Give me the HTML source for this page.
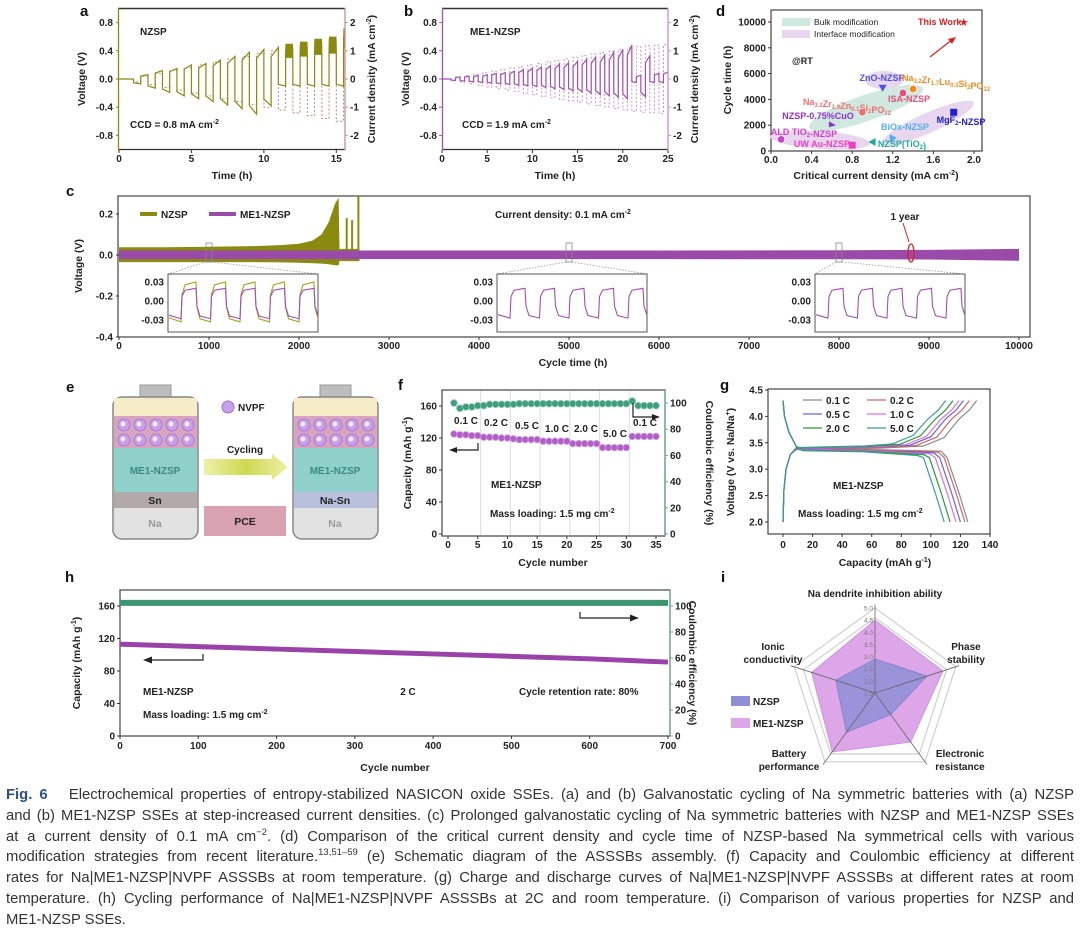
<!DOCTYPE html>
<html><head><meta charset="utf-8">
<style>
body{margin:0;width:1080px;height:931px;background:#fff;overflow:hidden;font-family:"Liberation Sans",sans-serif}
svg{position:absolute;left:0;top:0}
.tk{font:bold 10px "Liberation Sans",sans-serif;fill:#222}
.ti{font:bold 10.5px "Liberation Sans",sans-serif;fill:#222}
.pl{font:bold 15px "Liberation Sans",sans-serif;fill:#111}
.an{font:bold 10px "Liberation Sans",sans-serif;fill:#222}
.sm{font:bold 9px "Liberation Sans",sans-serif}
#cap{position:absolute;left:6px;top:785px;width:1068px;font-size:14.8px;line-height:20.8px;color:#333}
#cap div{text-align:justify;text-align-last:justify}
#cap div.last{text-align-last:left}
#cap sup{font-size:9.5px;line-height:0}
</style></head>
<body>
<svg id="fig" width="1080" height="786" viewBox="0 0 1080 786">
<defs>
<clipPath id="clipA"><rect x="118" y="8" width="227" height="142"/></clipPath>
<clipPath id="clipB"><rect x="442" y="8" width="226" height="142"/></clipPath>
<clipPath id="clipC"><rect x="118" y="196" width="912" height="141"/></clipPath>
<linearGradient id="arrG" x1="0" x2="1"><stop offset="0" stop-color="#eef0a8"/><stop offset="0.5" stop-color="#cfd850"/><stop offset="1" stop-color="#eef0a8"/></linearGradient>
</defs>

<!-- panel a -->
<text class="pl" x="80" y="16">a</text>
<text class="ti" transform="translate(85,79) rotate(-90)" text-anchor="middle">Voltage (V)</text>
<text class="ti" transform="translate(375,79) rotate(-90)" text-anchor="middle">Current density (mA cm<tspan font-size="7" dy="-4">-2</tspan><tspan dy="4">)</tspan></text>
<text class="ti" x="232" y="179" text-anchor="middle">Time (h)</text>
<g id="gA" clip-path="url(#clipA)"></g>
<line x1="118" y1="8.5" x2="345" y2="8.5" stroke="#333" stroke-width="1.5"/>
<line x1="118" y1="149.5" x2="345" y2="149.5" stroke="#333" stroke-width="1.2"/>
<line x1="118.5" y1="8" x2="118.5" y2="150" stroke="#8a8a10" stroke-width="1.3"/>
<line x1="345" y1="8" x2="345" y2="150" stroke="#c99090" stroke-width="1.3"/>
<text class="an" x="140" y="35">NZSP</text>
<text class="an" x="130" y="128">CCD = 0.8 mA cm<tspan font-size="7" dy="-4">-2</tspan></text>

<!-- panel b -->
<text class="pl" x="404" y="16">b</text>
<text class="ti" transform="translate(409,79) rotate(-90)" text-anchor="middle">Voltage (V)</text>
<text class="ti" transform="translate(698,79) rotate(-90)" text-anchor="middle">Current density (mA cm<tspan font-size="7" dy="-4">-2</tspan><tspan dy="4">)</tspan></text>
<text class="ti" x="555" y="179" text-anchor="middle">Time (h)</text>
<g id="gB" clip-path="url(#clipB)"></g>
<line x1="442" y1="8.5" x2="668" y2="8.5" stroke="#333" stroke-width="1.5"/>
<line x1="442" y1="149.5" x2="668" y2="149.5" stroke="#333" stroke-width="1.2"/>
<line x1="442.5" y1="8" x2="442.5" y2="150" stroke="#a050b0" stroke-width="1.3"/>
<line x1="668" y1="8" x2="668" y2="150" stroke="#d090c0" stroke-width="1.3"/>
<text class="an" x="470" y="35">ME1-NZSP</text>
<text class="an" x="462" y="128">CCD = 1.9 mA cm<tspan font-size="7" dy="-4">-2</tspan></text>

<!-- panel d -->
<text class="pl" x="716" y="16">d</text>
<text class="ti" transform="translate(731,80) rotate(-90)" text-anchor="middle">Cycle time (h)</text>
<text class="ti" x="876" y="179" text-anchor="middle">Critical current density (mA cm<tspan font-size="7" dy="-4">-2</tspan><tspan dy="4">)</tspan></text>
<rect x="771" y="10" width="211" height="141" fill="#fff" stroke="#444" stroke-width="1.2"/>
<ellipse cx="866" cy="108" rx="60" ry="13" transform="rotate(-19 866 108)" fill="#cfe8e0"/>
<ellipse cx="884" cy="80" rx="19" ry="9" fill="#e8d6ee"/>
<ellipse cx="928" cy="123" rx="50" ry="10" transform="rotate(-24 928 123)" fill="#e8d6ee"/>
<ellipse cx="820" cy="140" rx="50" ry="9" transform="rotate(4 820 140)" fill="#e8d6ee"/>
<rect x="782" y="18" width="28" height="8" fill="#cfe8e0"/>
<text x="814" y="25" font-size="8.5" fill="#222">Bulk modification</text>
<rect x="782" y="30" width="28" height="8" fill="#e8d6ee"/>
<text x="814" y="37" font-size="8.5" fill="#222">Interface modification</text>
<text class="sm" x="918" y="25" fill="#e02020">This Work</text>
<text class="sm" x="792" y="64" fill="#222">@RT</text>
<line x1="930" y1="57" x2="953" y2="39" stroke="#e02020" stroke-width="1.2"/>
<polygon points="956,37 948,39 952,44" fill="#e02020"/>
<g id="gD"></g>

<!-- panel c -->
<text class="pl" x="66" y="196">c</text>
<text class="ti" transform="translate(82,266) rotate(-90)" text-anchor="middle">Voltage (V)</text>
<text class="ti" x="573" y="366" text-anchor="middle">Cycle time (h)</text>
<rect x="118" y="196" width="912" height="141" fill="#fff" stroke="#444" stroke-width="1.2"/>
<g id="gC" clip-path="url(#clipC)"></g>
<line x1="140" y1="214" x2="157" y2="214" stroke="#8a8a10" stroke-width="4"/>
<text class="an" x="161" y="218">NZSP</text>
<line x1="209" y1="214" x2="236" y2="214" stroke="#9a4aa8" stroke-width="4"/>
<text class="an" x="240" y="218">ME1-NZSP</text>
<text class="an" x="563" y="218" text-anchor="middle">Current density: 0.1 mA cm<tspan font-size="7" dy="-4">-2</tspan></text>
<text class="an" x="905" y="220" text-anchor="middle">1 year</text>
<line x1="903" y1="223" x2="909" y2="242" stroke="#e02020" stroke-width="1"/>
<g id="gCi"></g>

<!-- panel e -->
<text class="pl" x="66" y="392">e</text>
<g>
<rect x="140" y="385" width="31" height="13" fill="#bdbdbd" stroke="#999"/>
<rect x="113" y="397" width="85" height="142" rx="9" fill="#e2e2e2" stroke="#888" stroke-width="1.5"/>
<rect x="114" y="398" width="83" height="18" fill="#f6ecc8"/>
<rect x="114" y="416" width="83" height="32" fill="#d7a5c2"/>
<rect x="114" y="448" width="83" height="44" fill="#90d0cb"/>
<rect x="114" y="492" width="83" height="16" fill="#b2aaaa"/>
<text x="155" y="474" text-anchor="middle" font-size="10" font-weight="bold" fill="#3a8a84">ME1-NZSP</text>
<text x="155" y="504" text-anchor="middle" font-size="10.5" font-weight="bold" fill="#222">Sn</text>
<text x="155" y="527" text-anchor="middle" font-size="10.5" font-weight="bold" fill="#999">Na</text>
</g>
<g>
<rect x="320" y="385" width="31" height="13" fill="#bdbdbd" stroke="#999"/>
<rect x="293" y="397" width="85" height="142" rx="9" fill="#e2e2e2" stroke="#888" stroke-width="1.5"/>
<rect x="294" y="398" width="83" height="18" fill="#f6ecc8"/>
<rect x="294" y="416" width="83" height="32" fill="#d7a5c2"/>
<rect x="294" y="448" width="83" height="44" fill="#90d0cb"/>
<rect x="294" y="492" width="83" height="16" fill="#b8c0dc"/>
<text x="335" y="474" text-anchor="middle" font-size="10" font-weight="bold" fill="#3a8a84">ME1-NZSP</text>
<text x="335" y="504" text-anchor="middle" font-size="10.5" font-weight="bold" fill="#222">Na-Sn</text>
<text x="335" y="527" text-anchor="middle" font-size="10.5" font-weight="bold" fill="#999">Na</text>
</g>
<g id="gE"></g>
<circle cx="228" cy="407" r="6" fill="#c8a0ea" stroke="#a070d0"/>
<text x="238" y="411" font-size="10" font-weight="bold" fill="#222">NVPF</text>
<polygon points="204,459 272,459 272,454 288,467 272,480 272,475 204,475" fill="url(#arrG)"/>
<text x="245" y="453" text-anchor="middle" font-size="10" font-weight="bold" fill="#222">Cycling</text>
<rect x="204" y="506" width="82" height="30" fill="#d9a2b2"/>
<text x="245" y="525" text-anchor="middle" font-size="10.5" font-weight="bold" fill="#222">PCE</text>

<!-- panel f -->
<text class="pl" x="398" y="390">f</text>
<text class="ti" transform="translate(411,463) rotate(-90)" text-anchor="middle">Capacity (mAh g<tspan font-size="7" dy="-4">-1</tspan><tspan dy="4">)</tspan></text>
<text class="ti" transform="translate(706,463) rotate(90)" text-anchor="middle">Coulombic efficiency (%)</text>
<text class="ti" x="553" y="566" text-anchor="middle">Cycle number</text>
<rect x="442" y="390" width="223" height="146" fill="#fff" stroke="#444" stroke-width="1.2"/>
<line x1="665" y1="390" x2="665" y2="536" stroke="#6aa890" stroke-width="1.3"/>
<g id="gF"></g>
<text class="an" x="491" y="488">ME1-NZSP</text>
<text class="an" x="490" y="517">Mass loading: 1.5 mg cm<tspan font-size="7" dy="-4">-2</tspan></text>
<path d="M478,443 V450 H451" fill="none" stroke="#222" stroke-width="1.2"/>
<polygon points="449,450 457,447 457,453" fill="#222"/>
<path d="M633,403 V417 H657" fill="none" stroke="#222" stroke-width="1.2"/>
<polygon points="660,417 652,414 652,420" fill="#222"/>

<!-- panel g -->
<text class="pl" x="720" y="390">g</text>
<text class="ti" transform="translate(734,462) rotate(-90)" text-anchor="middle">Voltage (V vs. Na/Na<tspan font-size="7" dy="-4">+</tspan><tspan dy="4">)</tspan></text>
<text class="ti" x="885" y="566" text-anchor="middle">Capacity (mAh g<tspan font-size="7" dy="-4">-1</tspan><tspan dy="4">)</tspan></text>
<rect x="768" y="389" width="222" height="145" fill="#fff" stroke="#444" stroke-width="1.2"/>
<g id="gG"></g>
<text class="an" x="833" y="489">ME1-NZSP</text>
<text class="an" x="798" y="517">Mass loading: 1.5 mg cm<tspan font-size="7" dy="-4">-2</tspan></text>

<!-- panel h -->
<text class="pl" x="65" y="582">h</text>
<text class="ti" transform="translate(80,663) rotate(-90)" text-anchor="middle">Capacity (mAh g<tspan font-size="7" dy="-4">-1</tspan><tspan dy="4">)</tspan></text>
<text class="ti" transform="translate(689,663) rotate(90)" text-anchor="middle">Coulombic efficiency (%)</text>
<text class="ti" x="395" y="771" text-anchor="middle">Cycle number</text>
<rect x="120" y="590" width="550" height="146" fill="#fff" stroke="#444" stroke-width="1.2"/>
<line x1="670" y1="590" x2="670" y2="736" stroke="#6aa890" stroke-width="1.3"/>
<g id="gH"></g>
<text class="an" x="143" y="695">ME1-NZSP</text>
<text class="an" x="143" y="718">Mass loading: 1.5 mg cm<tspan font-size="7" dy="-4">-2</tspan></text>
<text class="an" x="408" y="695" text-anchor="middle">2 C</text>
<text class="an" x="519" y="695">Cycle retention rate: 80%</text>
<path d="M203,654 V660 H146" fill="none" stroke="#222" stroke-width="1.2"/>
<polygon points="143,660 152,656.5 152,663.5" fill="#222"/>
<path d="M580,612 V618 H635" fill="none" stroke="#222" stroke-width="1.2"/>
<polygon points="639,618 630,614.5 630,621.5" fill="#222"/>

<!-- panel i -->
<text class="pl" x="721" y="582">i</text>
<g id="gI"></g>
<text class="an" x="875" y="597" text-anchor="middle" font-size="10.5">Na dendrite inhibition ability</text>
<text class="an" x="966" y="650" text-anchor="middle">Phase</text>
<text class="an" x="966" y="663" text-anchor="middle">stability</text>
<text class="an" x="773" y="650" text-anchor="middle">Ionic</text>
<text class="an" x="773" y="663" text-anchor="middle">conductivity</text>
<text class="an" x="789" y="757" text-anchor="middle">Battery</text>
<text class="an" x="789" y="770" text-anchor="middle">performance</text>
<text class="an" x="960" y="757" text-anchor="middle">Electronic</text>
<text class="an" x="960" y="770" text-anchor="middle">resistance</text>
<rect x="731" y="696" width="19" height="10" fill="#8f8fd6"/>
<text class="an" x="753" y="705">NZSP</text>
<rect x="731" y="718" width="19" height="10" fill="#dda6e8"/>
<text class="an" x="753" y="727">ME1-NZSP</text>
</svg>

<div id="cap">
<div><b style="color:#2a4f8a">Fig. 6</b>&nbsp;&nbsp; Electrochemical properties of entropy-stabilized NASICON oxide SSEs. (a) and (b) Galvanostatic cycling of Na symmetric batteries with (a) NZSP</div>
<div>and (b) ME1-NZSP SSEs at step-increased current densities. (c) Prolonged galvanostatic cycling of Na symmetric batteries with NZSP and ME1-NZSP SSEs</div>
<div>at a current density of 0.1 mA cm<sup>−2</sup>. (d) Comparison of the critical current density and cycle time of NZSP-based Na symmetrical cells with various</div>
<div>modification strategies from recent literature.<sup>13,51–59</sup> (e) Schematic diagram of the ASSSBs assembly. (f) Capacity and Coulombic efficiency at different</div>
<div>rates for Na|ME1-NZSP|NVPF ASSSBs at room temperature. (g) Charge and discharge curves of Na|ME1-NZSP|NVPF ASSSBs at different rates at room</div>
<div>temperature. (h) Cycling performance of Na|ME1-NZSP|NVPF ASSSBs at 2C and room temperature. (i) Comparison of various properties for NZSP and</div>
<div class="last">ME1-NZSP SSEs.</div>
</div>

<script>
// ---------- data ----------
const aVpos = [0.06,0.12,0.15,0.2,0.22,0.27,0.32,0.38,0.42,0.45,0.5,0.53,0.57,0.6,0.72];
const aVneg = [-0.07,-0.13,-0.19,-0.24,-0.28,-0.32,-0.37,-0.42,-0.5,-0.38,-0.1,-0.1,-0.1,-0.1,-0.1];
const aCur = [0.1,0.2,0.3,0.4,0.5,0.6,0.7,0.8,0.9,1.0,1.1,1.2,1.3,1.4,1.5];
const aNoisy = [0,0,0,0,0,0,0,0,0,0,1,1,1,1,1];
const bVpos = [0.03,0.04,0.05,0.06,0.08,0.09,0.11,0.13,0.15,0.17,0.19,0.21,0.23,0.25,0.28,0.31,0.34,0.38,0.42,0.48,0.05,0.33,0.08,0.1];
const bVneg = [-0.02,-0.03,-0.04,-0.05,-0.06,-0.07,-0.08,-0.09,-0.1,-0.11,-0.12,-0.14,-0.15,-0.17,-0.18,-0.2,-0.22,-0.24,-0.26,-0.28,-0.05,-0.25,-0.05,-0.05];
const bCur = [0.06,0.11,0.17,0.22,0.28,0.33,0.39,0.44,0.5,0.55,0.61,0.66,0.72,0.77,0.83,0.88,0.94,0.99,1.05,1.1,1.15,1.18,1.2,1.22];
const cNT = [0,500,1000,1500,1800,2000,2150,2250,2330,2400,2440,2450,2670];
const cNTop = [0.038,0.038,0.04,0.043,0.048,0.055,0.07,0.1,0.16,0.25,0.28,0.03,0.03];
const cNBot = [-0.035,-0.035,-0.035,-0.035,-0.036,-0.038,-0.04,-0.042,-0.045,-0.05,-0.05,-0.03,-0.03];
const cSpikeT = [2530,2590,2660];
const cSpikeV = [0.18,0.17,0.29];
const cMT = [0,2000,4000,6000,8000,9000,10000];
const cMTop = [0.022,0.022,0.022,0.022,0.023,0.025,0.03];
const cMBot = [-0.02,-0.02,-0.02,-0.02,-0.021,-0.022,-0.028];
const cInsetT = [1000,5000,8000];
const cInsetTopM = [0.02,0.02,0.02];
const cInsetBotM = [-0.028,-0.027,-0.027];
const cInsetTopN = [0.03];
const cInsetBotN = [-0.033];
const dNames = ['This Work','ZnO-NZSP','Na3.2Zr1.7Lu0.3Si2PO12','ISA-NZSP','Na3.2Zr1.9Zn0.1Si2PO12','NZSP-0.75%CuO','MgF2-NZSP','BiOx-NZSP','ALD TiO2-NZSP','UW Au-NZSP','NZSP(TiO2)'];
const dCCD = [1.9,1.1,1.4,1.3,0.9,0.6,1.8,1.2,0.1,0.8,1.0];
const dTime = [10000,4900,4800,4500,3000,2000,3000,1000,900,450,700];
const fCycles = [1,2,3,4,5,6,7,8,9,10,11,12,13,14,15,16,17,18,19,20,21,22,23,24,25,26,27,28,29,30,31,32,33,34,35];
const fCap = [125,124,124,123,123,121,121,121,120,120,119,118,118,118,118,116,116,116,116,116,113,113,113,113,113,108,108,108,108,108,122,122,122,122,122];
const fCE = [100,96,97,97,98,98,99,99,99,99,99,99.5,99.5,99.5,99.5,99.5,99.5,99.5,99.5,99.5,99.5,99.5,99.5,99.5,99.5,99.5,99.5,99.5,99.5,99.5,101.5,98,98,98,98];
const fRates = ['0.1 C','0.2 C','0.5 C','1.0 C','2.0 C','5.0 C','0.1 C'];
const gRates = ['0.1 C','0.2 C','0.5 C','1.0 C','2.0 C','5.0 C'];
const gCharge = [131,126,122,119,115,110];
const gDischarge = [125,123,120,117,113,109];
const hCycles = [0,100,200,300,400,500,600,700];
const hCap = [113,110,107,104,101,98,95,91];
const hCE = [100.5,100.5,100.5,100.5,100.5,100.5,100.5,100.5];
const iAxes = ['Na dendrite inhibition ability','Phase stability','Electronic resistance','Battery performance','Ionic conductivity'];
const iNZSP = [2.9,3.75,2.6,3.5,3.2];
const iME1 = [4.5,4.45,4.0,4.5,4.25];
const iTicks = [1.5,2.0,2.5,3.0,3.5,4.0,4.5,5.0];

// ---------- helpers ----------
const NS='http://www.w3.org/2000/svg';
const svg=document.getElementById('fig');
function mk(tag,attrs,parent){const e=document.createElementNS(NS,tag);for(const k in attrs)e.setAttribute(k,attrs[k]);(parent||svg).appendChild(e);return e;}
function lin(d0,d1,r0,r1){return v=>r0+(v-d0)*(r1-r0)/(d1-d0);}
function axisX(vals,labs,sx,y0,ly,name){
  vals.forEach((v,i)=>{const x=sx(v);
    const t=mk('line',{x1:x,x2:x,y1:y0,y2:y0+3,stroke:'#333','stroke-width':1});
    
    
    const l=mk('text',{x:x,y:ly,'text-anchor':'middle',class:'tk'});
    l.textContent=labs[i];
    
    
  });
}
function axisY(vals,labs,sy,x0,dir,lx,anchor,name,col){
  vals.forEach((v,i)=>{const y=sy(v);
    const t=mk('line',{x1:x0,x2:x0+dir*3,y1:y,y2:y,stroke:col||'#333','stroke-width':1});
    
    
    const l=mk('text',{x:lx,y:y+3.5,'text-anchor':anchor,class:'tk'});
    l.textContent=labs[i];
    
    
  });
}

// ---------- panels a & b ----------
function stepPanel(g,sx,sy,sj,pos,neg,cur,noisy,col,dcol,name){
  const n=pos.length;
  let dc=`M${sx(0)},${sj(0)} L${sx(1)},${sj(0)}`;
  for(let k=0;k<n;k++){const t0=1+k;
    dc+=` L${sx(t0)},${sj(-cur[k])} L${sx(t0+0.5)},${sj(-cur[k])} L${sx(t0+0.5)},${sj(cur[k])} L${sx(t0+1)},${sj(cur[k])}`;}
  const dp=mk('path',{d:dc,fill:'none',stroke:dcol,'stroke-width':1,'stroke-dasharray':'2,2'},g);
  
  
  let d=`M${sx(0)},${sy(0)} L${sx(1)},${sy(0)}`;
  for(let k=0;k<n;k++){const t0=1+k;
    d+=` L${sx(t0)},${sy(neg[k]*0.75)} L${sx(t0+0.5)},${sy(neg[k])} L${sx(t0+0.5)},${sy(pos[k]*0.7)}`;
    if(noisy&&noisy[k]){for(let j=1;j<=16;j++){const f=j%2?1:0.6;d+=` L${sx(t0+0.5+j/32)},${sy(pos[k]*f)}`;}}
    else d+=` L${sx(t0+1)},${sy(pos[k])}`;
  }
  const vp=mk('path',{d:d,fill:'none',stroke:col,'stroke-width':1.2},g);
  
  
}
const xa=lin(0,15.6,119,345), ya=lin(0,0.8,79,22.6), ja=lin(0,2,79,22.6);
stepPanel(document.getElementById('gA'),xa,ya,ja,aVpos,aVneg,aCur,aNoisy,'#8a8a10','#c08585','a');
axisX([0,5,10,15],['0','5','10','15'],xa,150,162,'a-x');
axisY([-0.8,-0.4,0,0.4,0.8],['-0.8','-0.4','0.0','0.4','0.8'],ya,119,-1,113,'end','a-y','#8a8a10');
axisY([-2,-1,0,1,2],['-2','-1','0','1','2'],ja,345,1,350,'start','a-right','#c99090');

const xb=lin(0,25,442,668), yb=lin(0,0.8,79,22.6), jb=lin(0,2,79,22.6);
stepPanel(document.getElementById('gB'),xb,yb,jb,bVpos,bVneg,bCur,null,'#a050b0','#d090c0','b');
axisX([0,5,10,15,20,25],['0','5','10','15','20','25'],xb,150,162,'b-x');
axisY([-0.8,-0.4,0,0.4,0.8],['-0.8','-0.4','0.0','0.4','0.8'],yb,442,-1,437,'end','b-y','#a050b0');
axisY([-2,-1,0,1,2],['-2','-1','0','1','2'],jb,668,1,673,'start','b-right','#d090c0');

// ---------- panel d ----------
const xd=lin(0,2,771,974), yd=lin(0,10000,151,22);
const gD=document.getElementById('gD');
const dCols=['#e02020','#5050e0','#f08a20','#e0507a','#f07070','#9030d0','#2020d0','#50b0f0','#d040d0','#f040c0','#20a8a0'];
const dShapes=['star','tdown','half','half','half','flag','sq','tright','circ','sq','tleft'];
const dLabX=[0,882,946,909,847,818,961,905,804,822,902];
const dLabY=[0,81,81,102,105,119,123,130,135,147,147];
dNames.forEach((nm,i)=>{
  const x=xd(dCCD[i]), y=yd(dTime[i]); let e;
  const s=dShapes[i];
  if(s==='star'){e=mk('text',{x:x,y:y+4,'text-anchor':'middle','font-size':11,fill:dCols[i]},gD);e.textContent='★';}
  else if(s==='tdown') e=mk('polygon',{points:`${x-4},${y-3} ${x+4},${y-3} ${x},${y+4}`,fill:dCols[i]},gD);
  else if(s==='tright') e=mk('polygon',{points:`${x-3},${y-4} ${x-3},${y+4} ${x+4},${y}`,fill:dCols[i]},gD);
  else if(s==='tleft') e=mk('polygon',{points:`${x+3},${y-4} ${x+3},${y+4} ${x-4},${y}`,fill:dCols[i]},gD);
  else if(s==='sq') e=mk('rect',{x:x-3.5,y:y-3.5,width:7,height:7,fill:dCols[i]},gD);
  else if(s==='flag') e=mk('polygon',{points:`${x-3},${y-4} ${x+4},${y} ${x-3},${y+2}`,fill:dCols[i]},gD);
  else e=mk('circle',{cx:x,cy:y,r:3.8,fill:dCols[i],stroke:'#fff','stroke-width':0.8},gD);
  
  
  if(i>0){
    const t=mk('text',{x:dLabX[i],y:dLabY[i],class:'sm',fill:dCols[i],'text-anchor':'middle','font-size':8.5},gD);
    t.innerHTML=nm.replace(/([A-Za-z\)])([0-9.]+)(?=[A-Za-z\-\)]|$)/g,'$1<tspan font-size="6" dy="2">$2</tspan><tspan dy="-2"></tspan>');
    
    
  }
});
axisX([0,0.4,0.8,1.2,1.6,2.0],['0.0','0.4','0.8','1.2','1.6','2.0'],xd,151,163,'d-x');
axisY([0,2000,4000,6000,8000,10000],['0','2000','4000','6000','8000','10000'],yd,771,-1,766,'end','d-y');

// ---------- panel c ----------
const xc=lin(0,10000,119,1019), yc=lin(0,0.2,255,214);
const gC=document.getElementById('gC');
let pn='';cNT.forEach((t,i)=>{pn+=(i?' L':'M')+xc(t)+','+yc(cNTop[i]);});
for(let i=cNT.length-1;i>=0;i--) pn+=' L'+xc(cNT[i])+','+yc(cNBot[i]);
const nzB=mk('path',{d:pn+'Z',fill:'#8a8a10'},gC);


cSpikeT.forEach((t,i)=>{
  const s=mk('line',{x1:xc(t),x2:xc(t),y1:yc(-0.03),y2:yc(cSpikeV[i]),stroke:'#8a8a10','stroke-width':2},gC);
  
  
});
let pm='';cMT.forEach((t,i)=>{pm+=(i?' L':'M')+xc(t)+','+yc(cMTop[i]);});
for(let i=cMT.length-1;i>=0;i--) pm+=' L'+xc(cMT[i])+','+yc(cMBot[i]);
const meB=mk('path',{d:pm+'Z',fill:'#9a4aa8'},gC);


axisX([0,1000,2000,3000,4000,5000,6000,7000,8000,9000,10000],['0','1000','2000','3000','4000','5000','6000','7000','8000','9000','10000'],xc,337,349,'c-x');
axisY([-0.4,-0.2,0,0.2],['-0.4','-0.2','0.0','0.2'],yc,119,-1,113,'end','c-y');
const ell=mk('ellipse',{cx:xc(8800),cy:253,rx:3,ry:9,fill:'none',stroke:'#e02020','stroke-width':1.3});


const gCi=document.getElementById('gCi');
const insL=[168,497,815];
cInsetT.forEach((t,i)=>{
  const mx=xc(t);
  const mr=mk('rect',{x:mx-3,y:243,width:6,height:19,fill:'none',stroke:'#888','stroke-width':0.8},gCi);
  
  
  const L=insL[i], W=150;
  [[mx-3,L],[mx+3,L+W]].forEach(p=>{
    const cl=mk('line',{x1:p[0],y1:262,x2:p[1],y2:274,stroke:'#999','stroke-width':0.8,'stroke-dasharray':'1.5,1.5'},gCi);
    
    
  });
  const bx=mk('rect',{x:L,y:274,width:W,height:58,fill:'#fff',stroke:'#555','stroke-width':1},gCi);
  
  
  const yi=lin(0,0.03,301,282);
  [['0.03',0.03],['0.00',0],['-0.03',-0.03]].forEach(q=>{
    const tl=mk('text',{x:L-4,y:yi(q[1])+3.5,'text-anchor':'end',class:'tk'},gCi);
    tl.textContent=q[0];
    
    
  });
  function wave(top,bot,col){
    let d=`M${L+1},${yi(bot*0.8)}`;
    for(let k=0;k<5;k++){const x0=L+1+k*29.5;
      d+=` L${x0+12},${yi(bot)} L${x0+13},${yi(top*0.35)} L${x0+16},${yi(top*0.85)} L${x0+27},${yi(top)} L${x0+28},${yi(bot*0.3)} L${x0+31},${yi(bot*0.85)}`;}
    const w=mk('path',{d:d,fill:'none',stroke:col,'stroke-width':1.1},gCi);
    
    
  }
  if(i===0) wave(cInsetTopN[0],cInsetBotN[0],'#a8a020');
  wave(cInsetTopM[i],cInsetBotM[i],'#a050b0');
});

// ---------- panel e particles ----------
const gE=document.getElementById('gE');
[124,140,156,172,188].forEach(cx=>{[0,180].forEach(off=>{[425,440].forEach(cy=>{
  const p=mk('circle',{cx:cx+off,cy:cy,r:6,fill:'#c8a0ea',stroke:'#a070d0','stroke-width':0.8},gE);
  
  
  const q=mk('circle',{cx:cx+off-1,cy:cy-1,r:2.5,fill:'#f4ecff'},gE);
  
  
});});});

// ---------- panel f ----------
const xf=lin(0,35,448,656), yf=lin(0,160,534,406), rf=lin(0,100,534,403);
const gF=document.getElementById('gF');
[5.5,10.5,15.5,20.5,25.5,30.5].forEach(c=>{
  const gl=mk('line',{x1:xf(c),x2:xf(c),y1:391,y2:535,stroke:'#ddd','stroke-width':1},gF);
  
  
});
fCycles.forEach((c,i)=>{
  const a=mk('circle',{cx:xf(c),cy:rf(fCE[i]),r:3.3,fill:'#3f9c7c',stroke:'#7cc4aa','stroke-width':0.8},gF);
  
  
  const b=mk('circle',{cx:xf(c),cy:yf(fCap[i]),r:3.3,fill:'#b060c4',stroke:'#d79ee4','stroke-width':0.8},gF);
  
  
});
const fLX=[466,496,527,557,586,615,645], fLY=[424,426,429,432,432,437,426];
fRates.forEach((r,i)=>{
  const t=mk('text',{x:fLX[i],y:fLY[i],'text-anchor':'middle',class:'an','font-size':11},gF);
  t.textContent=r;
  
  
});
axisX([0,5,10,15,20,25,30,35],['0','5','10','15','20','25','30','35'],xf,536,548,'f-x');
axisY([0,40,80,120,160],['0','40','80','120','160'],yf,442,-1,437,'end','f-y');
axisY([0,20,40,60,80,100],['0','20','40','60','80','100'],rf,665,1,670,'start','f-right','#6aa890');

// ---------- panel g ----------
const xg=lin(0,140,783,990), yg=lin(2,4.5,522,390);
const gG=document.getElementById('gG');
const gCols=['#8a8a8a','#e06060','#6464e0','#e070e0','#2a9a2a','#3a9a9a'];
gRates.forEach((r,i)=>{
  const Qc=gCharge[i], Qd=gDischarge[i], o=0.008*i;
  const ch=[[0,2.0],[0.6,2.6],[2,3.0],[5,3.28],[9,3.37+o],[Qc*0.5,3.40+o],[Qc-36,3.44+o],[Qc-22,3.6+o],[Qc-12,3.95],[Qc-5,4.12],[Qc,4.3]];
  const dc=[[0,4.3],[1,4.0],[4,3.7],[9,3.43],[13,3.39-o],[Qd*0.5,3.37-o],[Qd-18,3.34-o*2],[Qd-14,3.22],[Qd-9,2.8],[Qd-6,2.55],[Qd,2.0]];
  [ch,dc].forEach((pts,k)=>{
    const d=pts.map((p,j)=>(j?'L':'M')+xg(p[0]).toFixed(1)+','+yg(p[1]).toFixed(1)).join(' ');
    const pth=mk('path',{d:d,fill:'none',stroke:gCols[i],'stroke-width':1.2},gG);
    
    
  });
  const col=i%2, row=Math.floor(i/2);
  const lx=803+col*64, ly=400+row*14;
  const ll=mk('line',{x1:lx,x2:lx+19,y1:ly,y2:ly,stroke:gCols[i],'stroke-width':1.3},gG);
  
  
  const lt=mk('text',{x:lx+23,y:ly+4,class:'an','font-size':10.5},gG);
  lt.textContent=r;
  
  
});
axisX([0,20,40,60,80,100,120,140],['0','20','40','60','80','100','120','140'],xg,534,548,'g-x');
axisY([2.0,2.5,3.0,3.5,4.0,4.5],['2.0','2.5','3.0','3.5','4.0','4.5'],yg,768,-1,763,'end','g-y');

// ---------- panel h ----------
const xh=lin(0,700,120,668), yh=lin(0,160,736,606), rh=lin(0,100,736,606);
const gH=document.getElementById('gH');
const hce=hCycles.map((c,i)=>(i?'L':'M')+xh(c)+','+(rh(hCE[i])-2.5)).join(' ');
const hceL=mk('path',{d:hce,fill:'none',stroke:'#3d9670','stroke-width':6},gH);


const hcp=hCycles.map((c,i)=>(i?'L':'M')+xh(c)+','+yh(hCap[i])).join(' ');
const hcpL=mk('path',{d:hcp,fill:'none',stroke:'#9a42aa','stroke-width':5},gH);


axisX([0,100,200,300,400,500,600,700],['0','100','200','300','400','500','600','700'],xh,736,749,'h-x');
axisY([0,40,80,120,160],['0','40','80','120','160'],yh,120,-1,115,'end','h-y');
axisY([0,20,40,60,80,100],['0','20','40','60','80','100'],rh,670,1,675,'start','h-right','#6aa890');

// ---------- panel i ----------
const gI=document.getElementById('gI');
const cx=875, cy=693, R=85;
const rr=v=>(v-1.5)/3.5*R;
const ang=k=>-Math.PI/2+k*2*Math.PI/5;
function poly(vals){return vals.map((v,k)=>(cx+rr(v)*Math.cos(ang(k))).toFixed(1)+','+(cy+rr(v)*Math.sin(ang(k))).toFixed(1)).join(' ');}
[5.0,4.6].forEach(l=>{
  const g=mk('polygon',{points:poly([l,l,l,l,l]),fill:'none',stroke:'#cfcfcf','stroke-width':1.2},gI);
  
  
});
const pm1=mk('polygon',{points:poly(iME1),fill:'#dda6e8',stroke:'#c890d8','stroke-width':0.8},gI);


const pn1=mk('polygon',{points:poly(iNZSP),fill:'#8f8fd6','fill-opacity':0.85,stroke:'#7f7fc8','stroke-width':0.8},gI);


iAxes.forEach((a,k)=>{
  const sp=mk('line',{x1:cx,y1:cy,x2:cx+R*1.04*Math.cos(ang(k)),y2:cy+R*1.04*Math.sin(ang(k)),stroke:'#666','stroke-width':0.8},gI);
  
  
});
iTicks.forEach(v=>{
  const t=mk('text',{x:cx-2,y:cy-rr(v)+2.5,'text-anchor':'end','font-size':6.5,fill:'#777'},gI);
  t.textContent=v.toFixed(1);
  
  
});
</script>
</body></html>
